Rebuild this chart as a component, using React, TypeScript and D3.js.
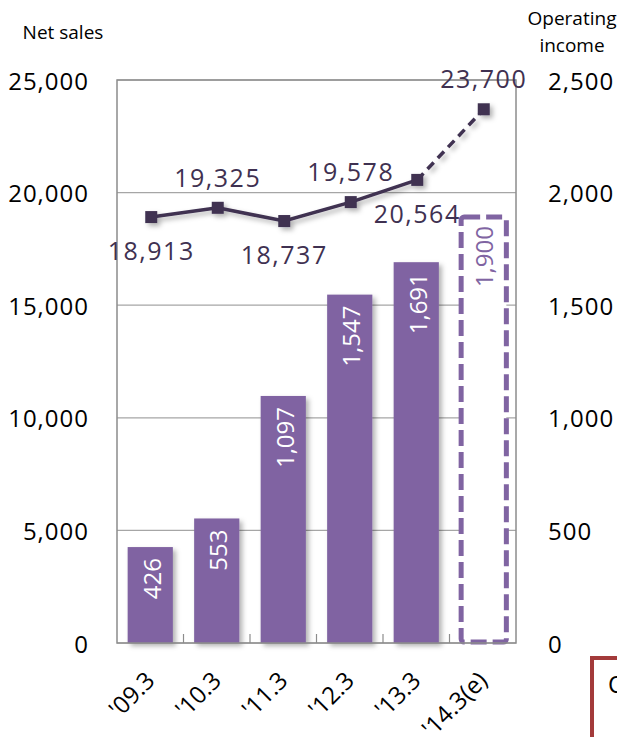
import React from "react";
import * as d3 from "d3";

const categories = ["'09.3", "'10.3", "'11.3", "'12.3", "'13.3", "'14.3(e)"];
const netSales = [18913, 19325, 18737, 19578, 20564, 23700];
const operatingIncome = [426, 553, 1097, 1547, 1691, 1900];
const leftTicks = [0, 5000, 10000, 15000, 20000, 25000];
const rightTicks = [0, 500, 1000, 1500, 2000, 2500];
const labelAbove = [false, true, false, true, false, true];

const FONT = "'Open Sans', 'Noto Sans', sans-serif";
const BAR = "#8064A2";
const LINE = "#3F3151";
const GRID = "#A6A6A6";

export default function App() {
  const W = 617, H = 737;
  const left = 117, right = 516, top = 80, bottom = 643;
  const x = d3.scaleBand<string>().domain(categories).range([left, right]).paddingInner(0.32).paddingOuter(0.16);
  const yL = d3.scaleLinear().domain([0, 25000]).range([bottom, top]);
  const yR = d3.scaleLinear().domain([0, 2500]).range([bottom, top]);
  const cx = (c: string) => (x(c) as number) + x.bandwidth() / 2;
  const fmt = d3.format(",");

  const pts = categories.map((c, i) => [cx(c) + 1, yL(netSales[i])] as [number, number]);
  const lineGen = d3.line();
  const solidPath = lineGen(pts.slice(0, 5)) as string;
  const dashPath = lineGen(pts.slice(4)) as string;
  const nActual = 5;

  return (
    <svg width={W} height={H} style={{ position: "absolute", left: 0, top: 0, fontFamily: FONT }}>
      <defs>
        <filter id="sh" x="-20%" y="-20%" width="160%" height="160%">
          <feDropShadow dx="3" dy="3" stdDeviation="2.5" floodColor="#000" floodOpacity="0.3" />
        </filter>
      </defs>
      <rect x={0} y={0} width={W} height={H} fill="#fff" />
      {leftTicks.map((t) => (
        <line key={t} x1={left} x2={right} y1={yL(t)} y2={yL(t)} stroke={GRID} strokeWidth={1.2} />
      ))}
      {operatingIncome.slice(0, nActual).map((v, i) => (
        <rect key={i} x={x(categories[i])} y={yR(v)} width={x.bandwidth()} height={bottom - yR(v)} fill={BAR} filter="url(#sh)" />
      ))}
      {(() => {
        const c = categories[5];
        const v = operatingIncome[5];
        return (
          <rect x={(x(c) as number) + 1} y={yR(v) + 2} width={x.bandwidth()} height={bottom - yR(v) - 3}
            fill="#fff" stroke={BAR} strokeWidth={5} strokeDasharray="16 6" rx={3} />
        );
      })()}
      <rect x={left} y={top} width={right - left} height={bottom - top} fill="none" stroke="#8C8C8C" strokeWidth={1.5} />
      {categories.slice(1).map((c) => (
        <line key={c} x1={x(c)! - (x.step() - x.bandwidth()) / 2} x2={x(c)! - (x.step() - x.bandwidth()) / 2} y1={bottom} y2={bottom - 9} stroke="#8C8C8C" strokeWidth={1.2} />
      ))}
      {operatingIncome.map((v, i) => (
        <text key={i} transform={`translate(${cx(categories[i]) + 1},${yR(v) + 11}) rotate(-90)`}
          textAnchor="end" dominantBaseline="central" fontSize={24} fill={i < nActual ? "#fff" : BAR}>
          {fmt(v)}
        </text>
      ))}
      <g filter="url(#sh)">
        <path d={solidPath} fill="none" stroke={LINE} strokeWidth={3.5} />
        <path d={dashPath} fill="none" stroke={LINE} strokeWidth={3.5} strokeDasharray="9 6" />
        {pts.map(([px, py], i) => (
          <rect key={i} x={px - 6} y={py - 6} width={12} height={12} fill={LINE} />
        ))}
      </g>
      {pts.map(([px, py], i) => (
        <text key={i} x={px} y={labelAbove[i] ? py - 31 : py + 33} textAnchor="middle" dominantBaseline="central"
          fontSize={25} fill={LINE} letterSpacing={1.5}>
          {fmt(netSales[i])}
        </text>
      ))}
      {leftTicks.map((t) => (
        <text key={t} x={89} y={yL(t)} textAnchor="end" dominantBaseline="central" fontSize={24} letterSpacing={1} fill="#000">
          {fmt(t)}
        </text>
      ))}
      {rightTicks.map((t) => (
        <text key={t} x={548} y={yR(t)} textAnchor="start" dominantBaseline="central" fontSize={24} letterSpacing={1} fill="#000">
          {fmt(t)}
        </text>
      ))}
      {categories.map((c) => (
        <text key={c} transform={`translate(${cx(c) + 6},${682}) rotate(-45)`} textAnchor="end" fontSize={24} fill="#000">
          {c}
        </text>
      ))}
      <text x={63} y={32} textAnchor="middle" dominantBaseline="central" fontSize={19} fill="#000">Net sales</text>
      <text x={572} y={18} textAnchor="middle" dominantBaseline="central" fontSize={19} fill="#000">Operating</text>
      <text x={572} y={45} textAnchor="middle" dominantBaseline="central" fontSize={19} fill="#000">income</text>
      <rect x={592} y={658} width={80} height={100} fill="none" stroke="#A33A3A" strokeWidth={4} />
      <text x={608} y={693} fontSize={24} fill="#000">O</text>
    </svg>
  );
}
